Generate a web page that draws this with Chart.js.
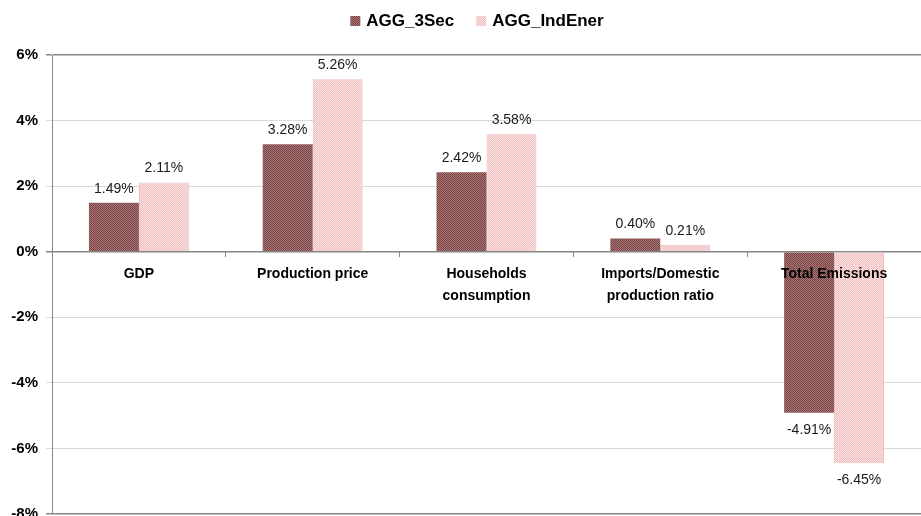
<!DOCTYPE html>
<html>
<head>
<meta charset="utf-8">
<script src="https://cdn.jsdelivr.net/npm/chart.js@4/dist/chart.umd.min.js"></script>
<style>
  html, body { margin: 0; padding: 0; background: #fff; }
  #wrap { width: 921px; height: 516px; }
</style>
</head>
<body>
<div id="wrap"><canvas id="chart" width="921" height="516"></canvas></div>
<script>
// ---- data ----
const categories = ['GDP', 'Production price', ['Households', 'consumption'], ['Imports/Domestic', 'production ratio'], 'Total Emissions'];
const seriesNames = ['AGG_3Sec', 'AGG_IndEner'];
const agg3Sec = [1.49, 3.28, 2.42, 0.40, -4.91];
const aggIndEner = [2.11, 5.26, 3.58, 0.21, -6.45];
const yTicks = [-8, -6, -4, -2, 0, 2, 4, 6];

const FONT = '"Liberation Sans", "DejaVu Sans", sans-serif';
const canvas = document.getElementById('chart');
const ctx = canvas.getContext('2d');

// small checkerboard fill like the Excel pattern
function pattern(a, b) {
  const c = document.createElement('canvas');
  c.width = 2; c.height = 2;
  const x = c.getContext('2d');
  x.fillStyle = a; x.fillRect(0, 0, 2, 2);
  x.fillStyle = b; x.fillRect(1, 0, 1, 1); x.fillRect(0, 1, 1, 1);
  return ctx.createPattern(c, 'repeat');
}
const darkFill = pattern('#7a4343', '#a87676');
const lightFill = pattern('#fbe4e4', '#f0bcbc');

// value labels above (or below, when negative) each bar
const valueLabels = {
  id: 'valueLabels',
  afterDatasetsDraw(chart) {
    const c = chart.ctx;
    c.save();
    c.font = '14px ' + FONT;
    c.fillStyle = '#1a1a1a';
    c.textAlign = 'center';
    c.textBaseline = 'middle';
    chart.data.datasets.forEach((ds, i) => {
      chart.getDatasetMeta(i).data.forEach((bar, j) => {
        const v = ds.data[j];
        const y = v >= 0 ? bar.y - 14 : bar.y + 17;
        c.fillText(v.toFixed(2) + '%', bar.x, y);
      });
    });
    c.restore();
  },
};

// legend row at the top, drawn by hand so the spacing matches
const topLegend = {
  id: 'topLegend',
  afterDraw(chart) {
    const c = chart.ctx;
    c.save();
    c.font = 'bold 17px ' + FONT;
    c.textBaseline = 'middle';
    const box = 10, gap = 6, spacing = 22;
    const widths = seriesNames.map(n => c.measureText(n).width);
    const total = widths.reduce((s, w) => s + box + gap + w, 0) + spacing;
    let x = 477 - total / 2;
    const y = 21;
    chart.data.datasets.forEach((ds, i) => {
      c.fillStyle = ds.backgroundColor;
      c.fillRect(x, y - box / 2, box, box);
      c.fillStyle = '#000';
      c.fillText(seriesNames[i], x + box + gap, y);
      x += box + gap + widths[i] + spacing;
    });
    c.restore();
  },
};

new Chart(canvas, {
  type: 'bar',
  data: {
    labels: categories,
    datasets: [
      { label: seriesNames[0], data: agg3Sec, backgroundColor: darkFill, borderWidth: 0 },
      { label: seriesNames[1], data: aggIndEner, backgroundColor: lightFill, borderColor: '#eebbbb', borderWidth: 1 },
    ],
  },
  options: {
    responsive: false,
    animation: false,
    layout: { padding: { top: 55, right: 0, bottom: 2, left: 0 } },
    datasets: { bar: { categoryPercentage: 0.575, barPercentage: 1 } },
    plugins: {
      legend: { display: false },
      tooltip: { enabled: false },
    },
    scales: {
      x: {
        position: { y: 0 },
        grid: { offset: true, drawOnChartArea: false, drawTicks: true, tickLength: 5, color: '#868686' },
        border: { color: '#868686' },
        ticks: {
          z: 1,
          color: '#000', padding: 6, maxRotation: 0, autoSkip: false,
          font: { family: FONT, size: 14, weight: 'bold', lineHeight: 1.6 },
        },
      },
      y: {
        min: -8, max: 6,
        afterBuildTicks: s => { s.ticks = yTicks.map(v => ({ value: v })); },
        afterFit: s => { s.width = 52; s.paddingTop = 0; s.paddingBottom = 0; },
        grid: {
          tickLength: 6,
          color: c => [0, 6, -8].includes(c.tick.value) ? '#868686' : '#d9d9d9',
          lineWidth: c => [0, 6, -8].includes(c.tick.value) ? 1.5 : 1,
        },
        border: { color: '#868686' },
        ticks: {
          color: '#000', padding: 8,
          font: { family: FONT, size: 15, weight: 'bold' },
          callback: v => v + '%',
        },
      },
    },
  },
  plugins: [valueLabels, topLegend],
});
</script>
</body>
</html>
